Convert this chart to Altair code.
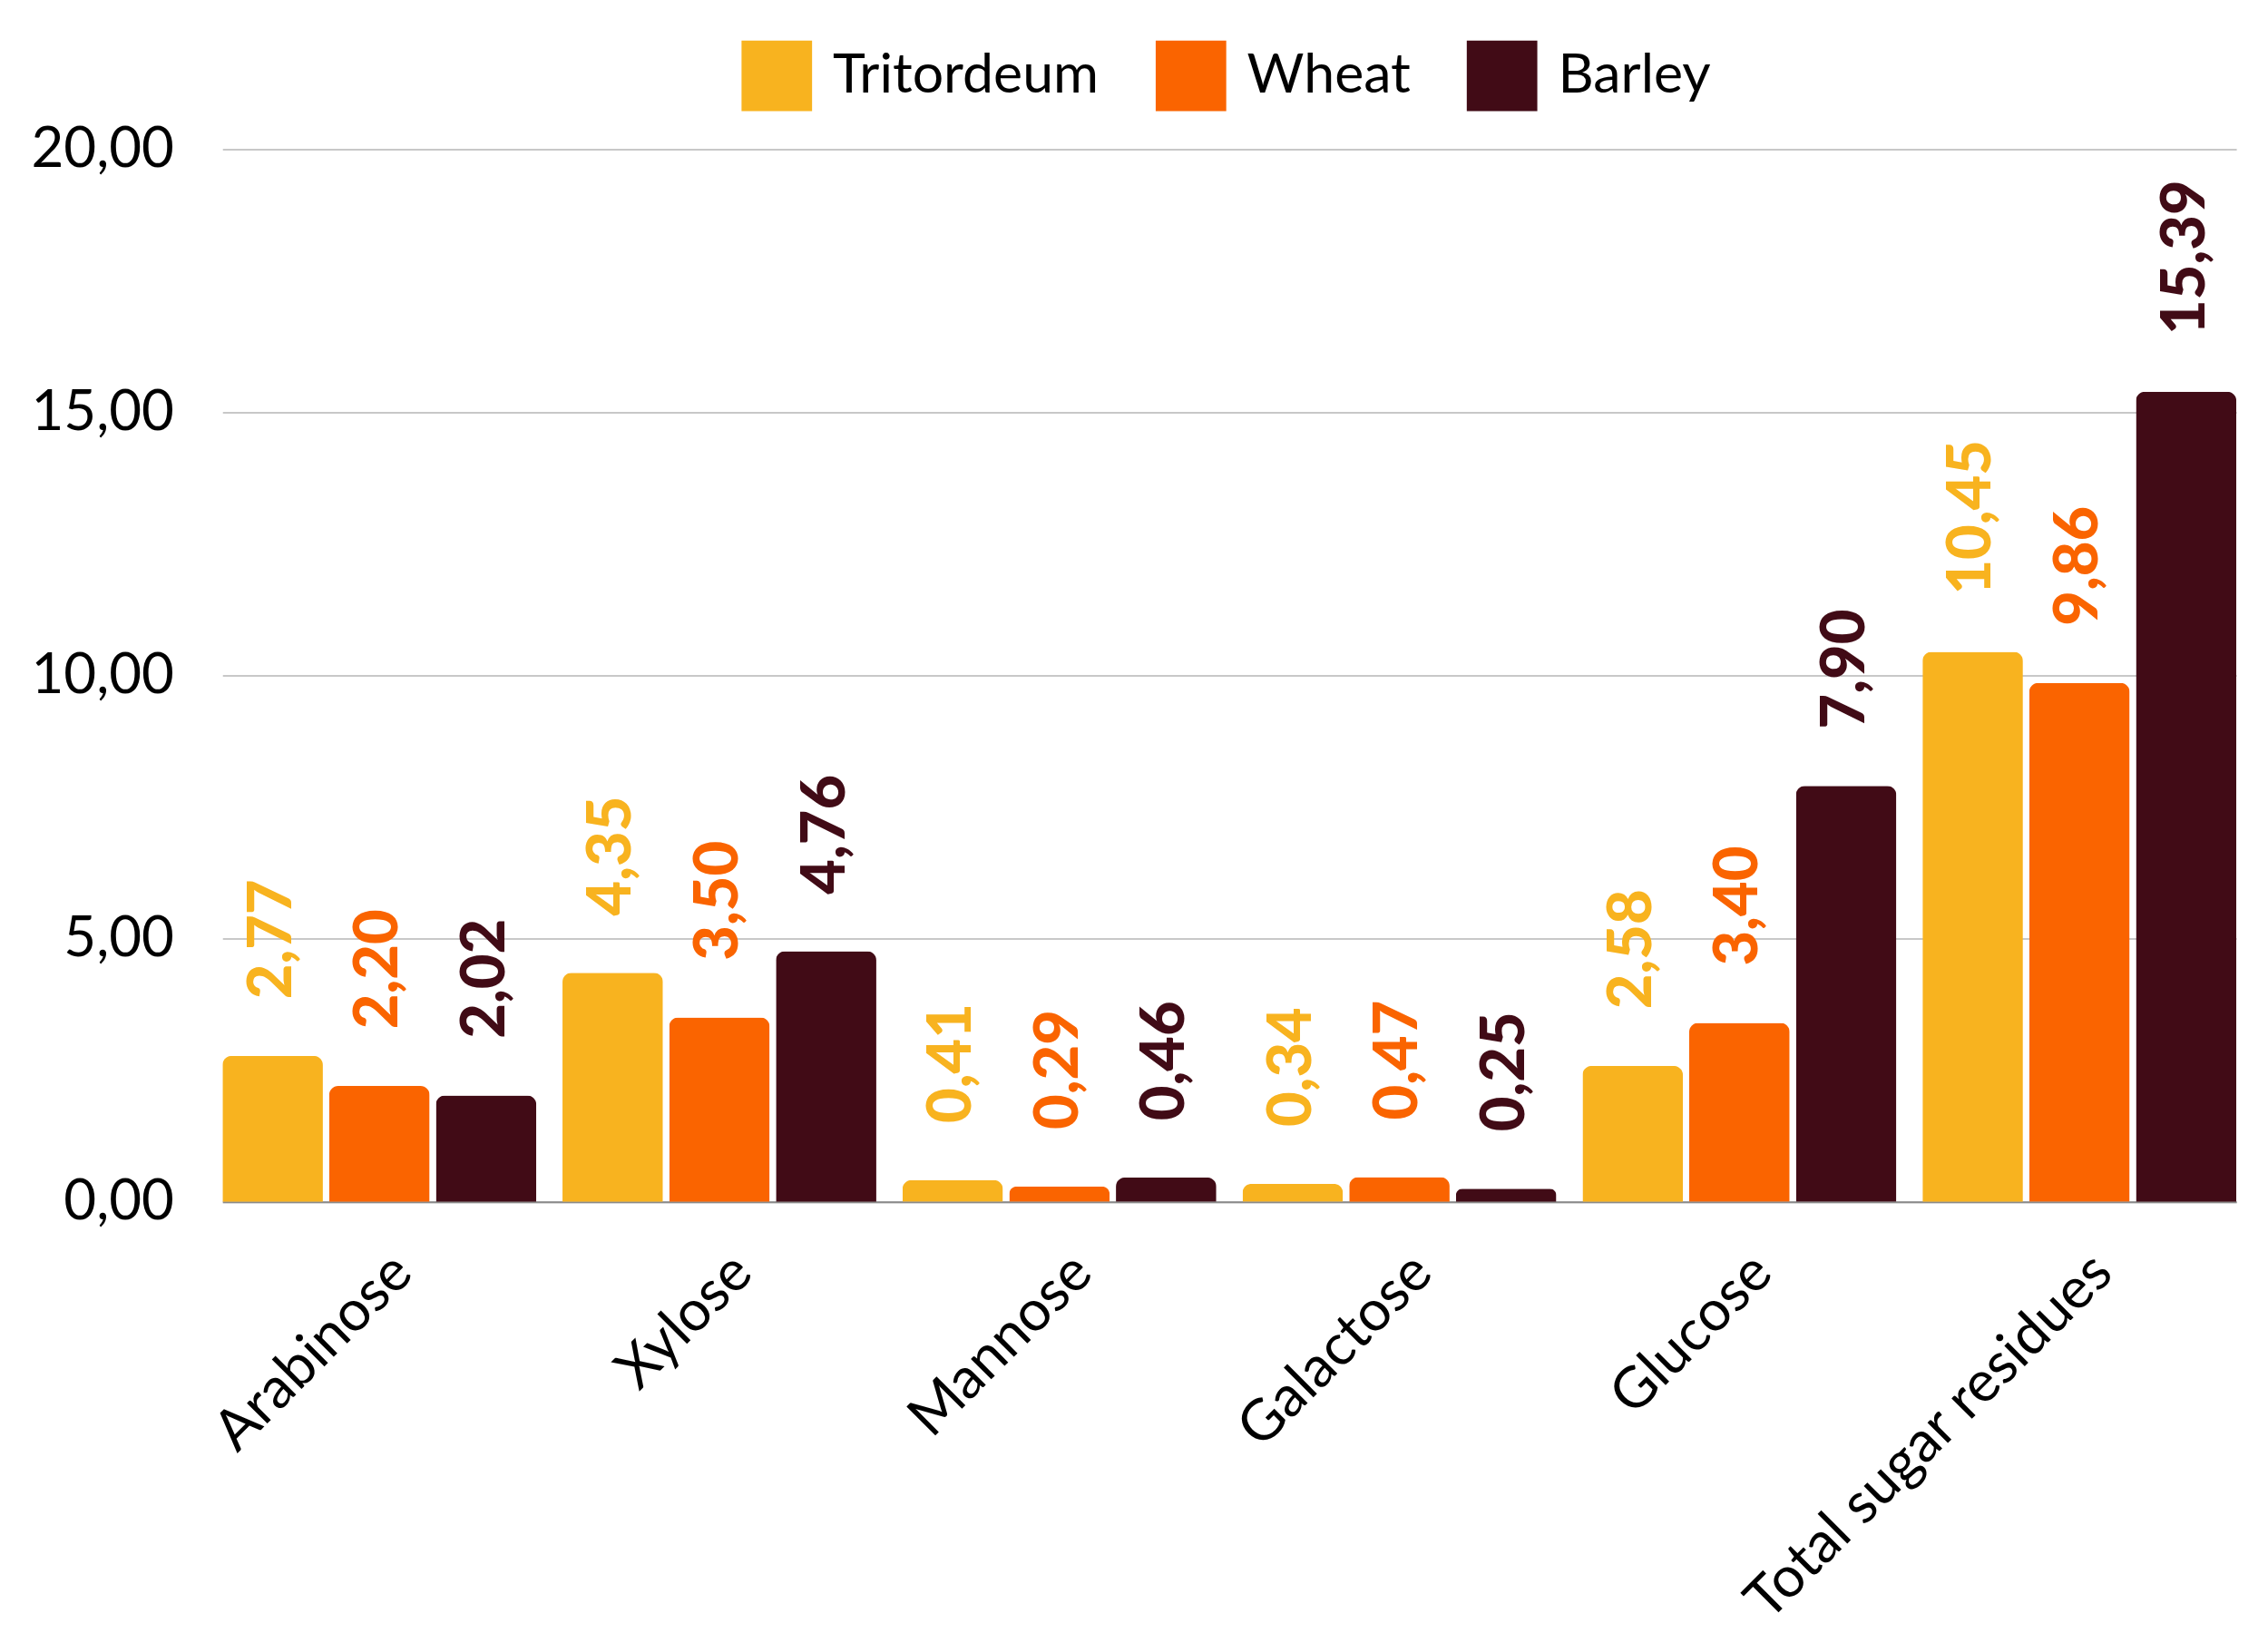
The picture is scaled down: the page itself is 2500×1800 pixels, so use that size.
import altair as alt
import pandas as pd

categories = ["Arabinose", "Xylose", "Mannose", "Galactose", "Glucose", "Total sugar residues"]
grains = ["Tritordeum", "Wheat", "Barley"]
tritordeum = [2.77, 4.35, 0.41, 0.34, 2.58, 10.45]
wheat = [2.20, 3.50, 0.29, 0.47, 3.40, 9.86]
barley = [2.02, 4.76, 0.46, 0.25, 7.90, 15.39]
colors = ["#F8B31F", "#FA6400", "#410B16"]
y_ticks = [0, 5, 10, 15, 20]

rows = []
for g, vals in zip(grains, [tritordeum, wheat, barley]):
    for c, v in zip(categories, vals):
        rows.append({"category": c, "grain": g, "value": v,
                     "label": f"{v:.2f}".replace(".", ",")})
df = pd.DataFrame(rows)

FONT = "Lato"

x = alt.X("category:N", sort=categories, title=None,
          scale=alt.Scale(paddingInner=0.077, paddingOuter=0),
          axis=alt.Axis(labelAngle=-45, labelAlign="right", labelBaseline="top",
                        labelFontSize=63, labelFont=FONT, labelColor="#000000",
                        labelPadding=46, labelOffset=4, ticks=False,
                        domainColor="#8a8a8a", domainWidth=2, labelLimit=1000,
                        grid=False))
xo = alt.XOffset("grain:N", sort=grains,
                 scale=alt.Scale(paddingInner=0.059, paddingOuter=0))
y = alt.Y("value:Q", title=None, scale=alt.Scale(domain=[0, 20]),
          axis=alt.Axis(values=y_ticks,
                        labelExpr="replace(format(datum.value, '.2f'), '.', ',')",
                        labelFontSize=62, labelFont=FONT, labelColor="#000000",
                        labelPadding=54, ticks=False, domain=False,
                        gridColor="#c8c8c8", gridWidth=2))
color = alt.Color("grain:N", sort=grains,
                  scale=alt.Scale(domain=grains, range=colors),
                  legend=alt.Legend(title=None, orient="none", direction="horizontal",
                                    legendX=574, legendY=-120,
                                    symbolType="square", symbolSize=6084,
                                    symbolStrokeWidth=0, symbolOpacity=1,
                                    labelFontSize=61, labelFont=FONT,
                                    labelColor="#000000", labelOffset=23,
                                    columnPadding=62, padding=0, labelLimit=1000))

base = alt.Chart(df).encode(x=x, xOffset=xo, y=y, color=color)

bars = base.mark_bar(cornerRadiusTopLeft=10, cornerRadiusTopRight=10)
labels = base.mark_text(angle=270, align="left", baseline="middle", dx=63,
                        font=FONT, fontSize=67, fontWeight=900).encode(
    text="label:N")

chart = alt.layer(bars, labels).properties(
    width=2227, height=1164,
    background="white",
    autosize=alt.AutoSizeParams(type="none"),
    padding={"left": 238, "top": 154, "right": 27, "bottom": 474},
).configure_view(stroke=None, strokeWidth=0)

chart.save("out.html", embed_options={"renderer": "svg", "actions": False})
